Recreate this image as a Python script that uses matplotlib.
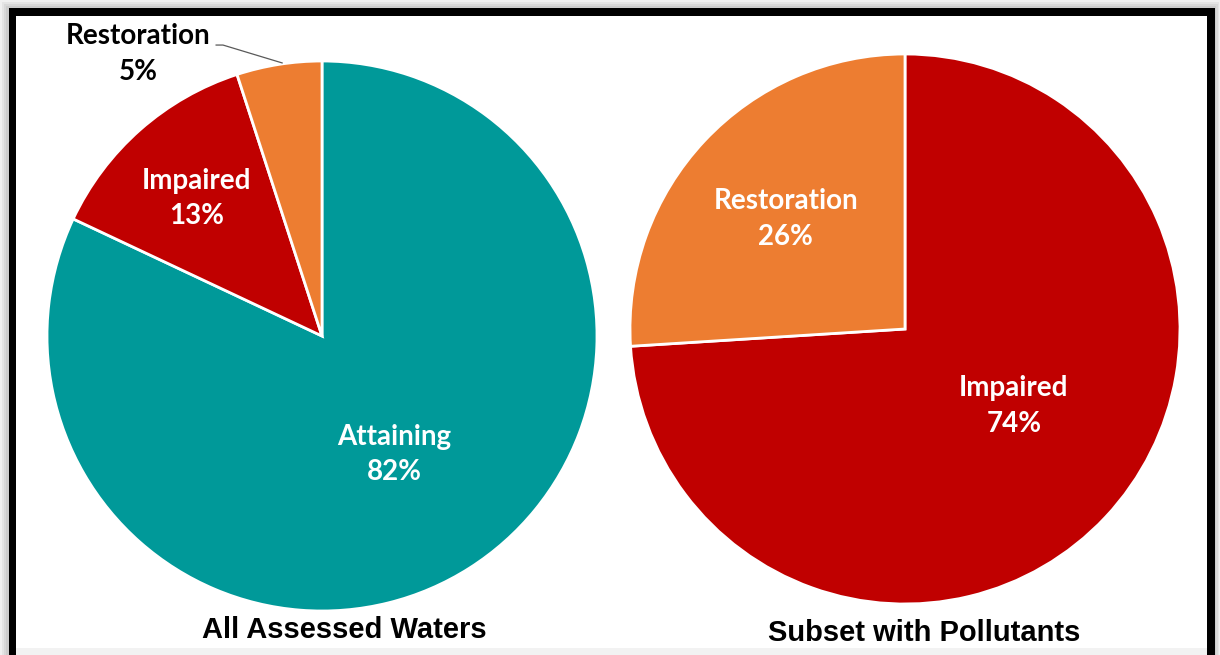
import matplotlib
matplotlib.use('Agg')
import matplotlib.pyplot as plt
from matplotlib.patches import Rectangle

# 数据
left_labels = ['Attaining', 'Impaired', 'Restoration']
left_values = [82, 13, 5]
right_labels = ['Impaired', 'Restoration']
right_values = [74, 26]
titles = ['All Assessed Waters', 'Subset with Pollutants']

teal = '#009999'
red = '#C00000'
orange = '#ED7D31'
left_colors = [teal, red, orange]
right_colors = [red, orange]

W, H = 1220, 655
fig = plt.figure(figsize=(W / 100, H / 100), dpi=100)
fig.patch.set_facecolor('white')


def px_rect(x0, y0, x1, y1, **kw):
    # 像素坐标（左上为原点）转成 figure 坐标
    r = Rectangle((x0 / W, 1 - y1 / H), (x1 - x0) / W, (y1 - y0) / H,
                  transform=fig.transFigure, zorder=-10, **kw)
    fig.patches.append(r)


# 阴影 + 黑框
for i, c in enumerate(['#f0f0f0', '#e4e4e4', '#d8d8d8', '#cccccc']):
    px_rect(i * 2, i * 2, W - i * 1.2, H, facecolor=c, edgecolor='none')
px_rect(9, 8, 1215, H, facecolor='black', edgecolor='none')
px_rect(16, 16, 1207, 648, facecolor='white', edgecolor='none')
px_rect(16, 648, 1207, H, facecolor='#f2f2f2', edgecolor='none')


def make_ax(cx, cy, r):
    ax = fig.add_axes([(cx - r) / W, 1 - (cy + r) / H, 2 * r / W, 2 * r / H])
    ax.patch.set_visible(False)
    return ax


def fix_ax(ax):
    # pie() 会把范围设成 ±1.25，这里改回 ±1 让饼图铺满
    ax.set_xlim(-1, 1)
    ax.set_ylim(-1, 1)
    ax.set_aspect('equal')
    ax.axis('off')


font = ['Lato', 'DejaVu Sans']
wp = dict(edgecolor='white', linewidth=2)
lab = dict(fontsize=20, fontweight='bold', family=font, ha='center',
           va='center', linespacing=1.45, clip_on=False)

ax1 = make_ax(322, 336, 275)
ax1.pie(left_values, colors=left_colors, startangle=90, counterclock=False,
        radius=1, wedgeprops=wp)
fix_ax(ax1)
ax1.text(0.262, -0.43, f'{left_labels[0]}\n{left_values[0]}%', color='white', **lab)
ax1.text(-0.455, 0.50, f'{left_labels[1]}\n{left_values[1]}%', color='white', **lab)
ax1.text(-0.669, 1.026, f'{left_labels[2]}\n{left_values[2]}%', color='black', **lab)
# 引导线
ax1.plot([-0.385, -0.36, -0.145], [1.058, 1.058, 0.993], color='#595959',
         linewidth=0.9, clip_on=False)

ax2 = make_ax(905, 329, 275)
ax2.pie(right_values, colors=right_colors, startangle=90, counterclock=False,
        radius=1, wedgeprops=wp)
fix_ax(ax2)
ax2.text(0.396, -0.28, f'{right_labels[0]}\n{right_values[0]}%', color='white', **lab)
ax2.text(-0.433, 0.40, f'{right_labels[1]}\n{right_values[1]}%', color='white', **lab)

fig.text(344 / W, 1 - 630 / H, titles[0], fontsize=21, fontweight='bold',
         family='Liberation Sans', ha='center', va='center')
fig.text(924 / W, 1 - 633 / H, titles[1], fontsize=21, fontweight='bold',
         family='Liberation Sans', ha='center', va='center')

fig.savefig('out.png', dpi=100)
